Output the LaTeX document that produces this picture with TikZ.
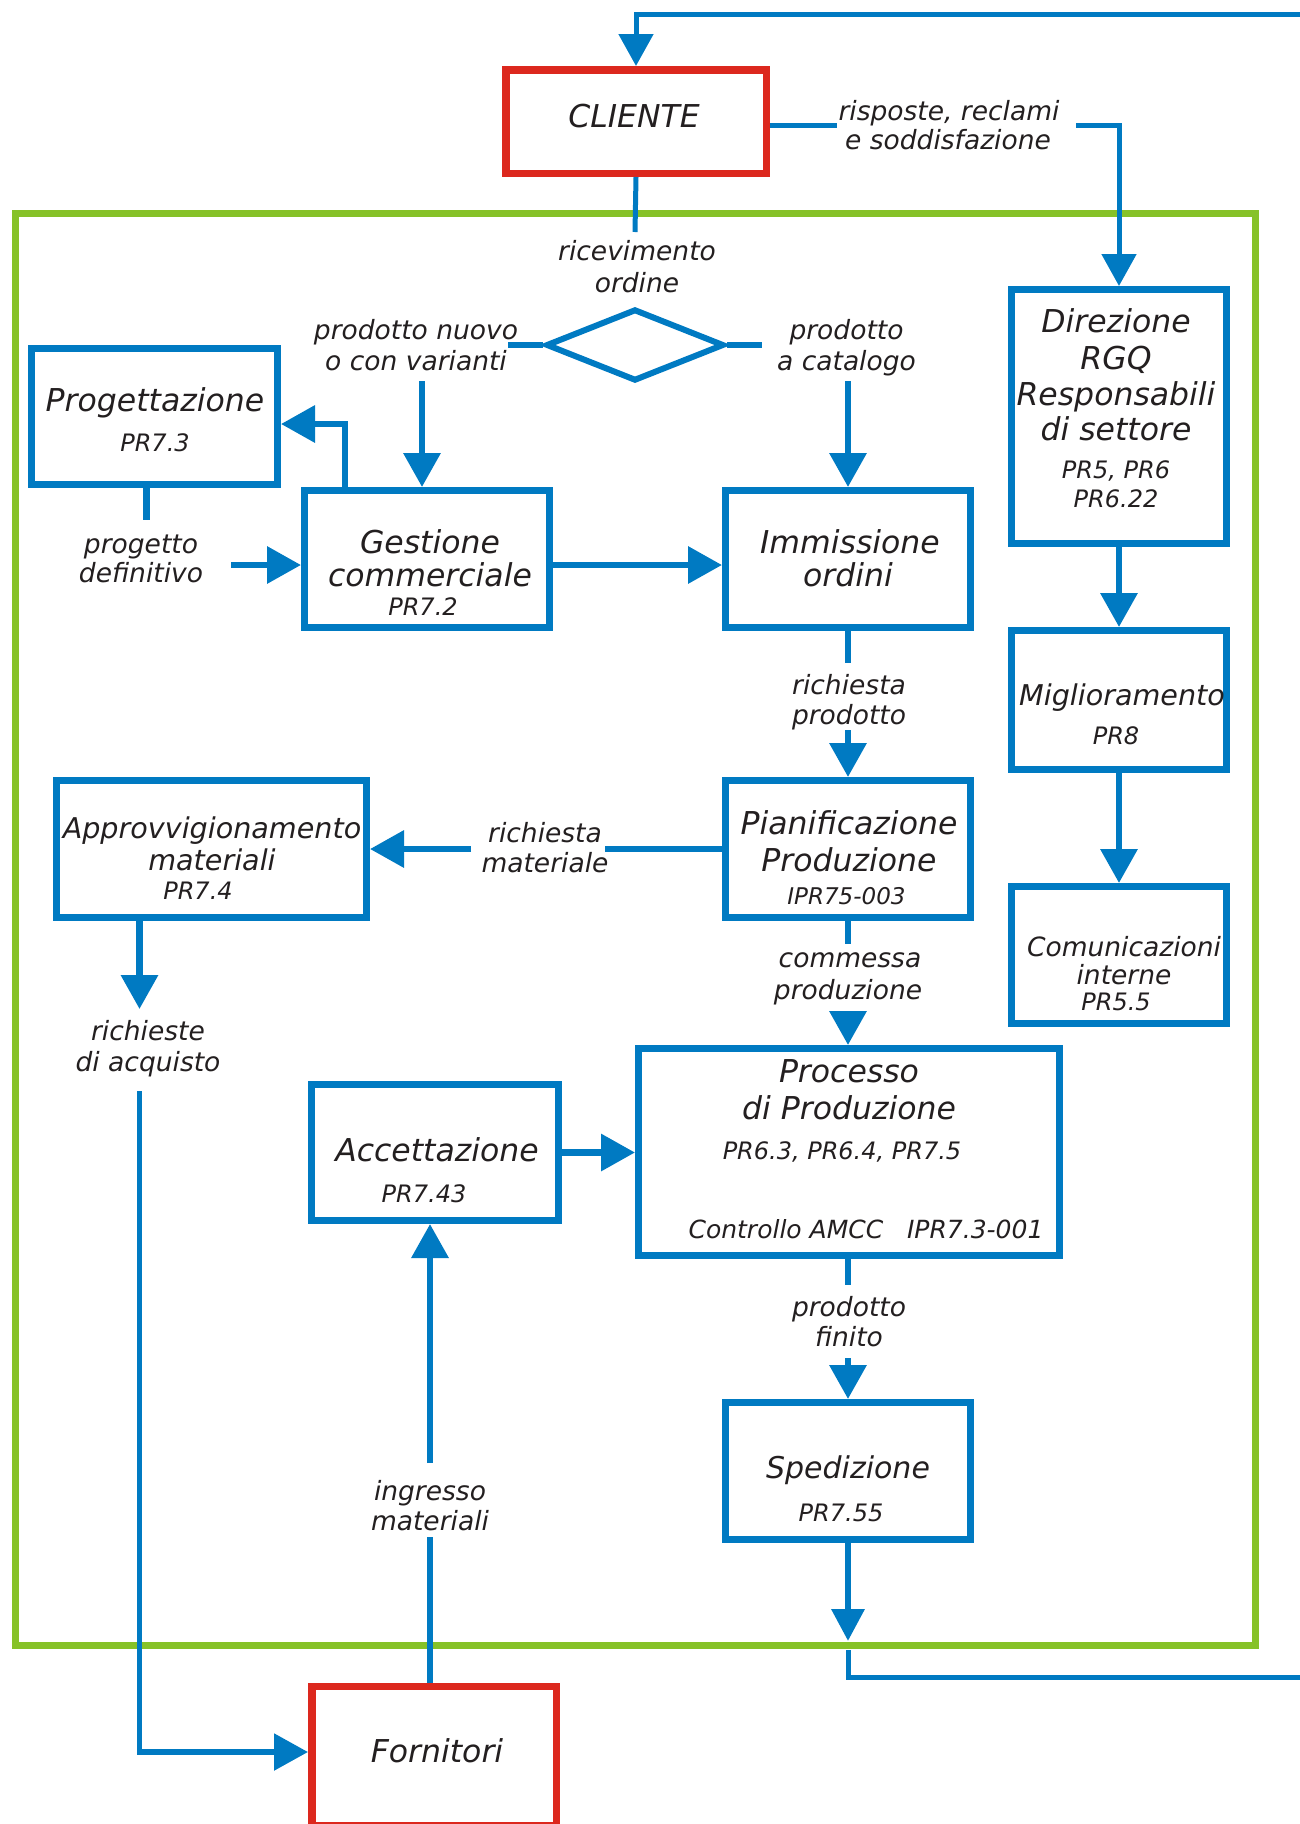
\documentclass[tikz,border=0pt]{standalone}
\usepackage{fontspec}
\setmainfont{DejaVu Sans}
\usetikzlibrary{arrows.meta,shapes.geometric}
\definecolor{qblue}{RGB}{0,122,194}
\definecolor{qred}{RGB}{220,40,30}
\definecolor{qgreen}{RGB}{134,194,40}
\definecolor{qtext}{RGB}{35,31,32}
\begin{document}
\begin{tikzpicture}[x=1pt,y=-1pt,
  box/.style={draw=qblue,line width=7pt,rectangle,inner sep=0pt,fill=white},
  rbox/.style={draw=qred,line width=7.5pt,rectangle,inner sep=0pt,fill=white},
  tx/.style={anchor=base,inner sep=0pt,text=qtext},
  fs/.style={tx,font=\fontsize{#1}{#1}\selectfont\itshape},
  ttl/.style={fs=31.5},
  cod/.style={fs=24},
  lab/.style={fs=26.5},
  con/.style={draw=qblue,line width=6.5pt},
  thinline/.style={draw=qblue,line width=5pt},
  arr/.style={-{Triangle[length=34pt,width=36pt]}},
]
\useasboundingbox (0,0) rectangle (1300,1824);

% frame
\node[draw=qgreen,line width=7pt,rectangle,inner sep=0pt,minimum width=1240pt,minimum height=1432pt] (frame) at (635.5,929.5) {};

% boxes
\node[rbox,minimum width=260.5pt,minimum height=103.5pt] (cli) at (636,121.5) {};
\node[rbox,minimum width=244.5pt,minimum height=139pt] (forn) at (434,1756) {};
\node[box,minimum width=246pt,minimum height=136pt] (prog) at (154.5,416.5) {};
\node[box,minimum width=245pt,minimum height=137pt] (gest) at (427,559) {};
\node[box,minimum width=245pt,minimum height=137pt] (imm) at (848,559) {};
\node[box,minimum width=215pt,minimum height=254pt] (dir) at (1119,416.5) {};
\node[box,minimum width=215pt,minimum height=139pt] (migl) at (1119,700) {};
\node[box,minimum width=215pt,minimum height=137pt] (com) at (1119,955) {};
\node[box,minimum width=245pt,minimum height=137pt] (pian) at (848,849) {};
\node[box,minimum width=310pt,minimum height=137pt] (appr) at (211.5,849) {};
\node[box,minimum width=421pt,minimum height=207pt] (proc) at (849,1152) {};
\node[box,minimum width=247pt,minimum height=136pt] (acc) at (435,1152.5) {};
\node[box,minimum width=245pt,minimum height=137pt] (sped) at (848,1471) {};
\node[diamond,draw=qblue,line width=6pt,inner sep=0pt,aspect=2.5,minimum width=178pt,minimum height=72pt] (dia) at (635,345) {};

% connectors
\coordinate (tr) at (1300,14);
\draw[thinline,-{Triangle[length=32pt,width=34pt]}] (tr) -| (cli.north);

\coordinate (rA) at (837,125);
\coordinate (rB) at (1076,125);
\draw[thinline] (rA -| cli.east) -- (rA);
\draw[thinline,-{Triangle[length=32pt,width=34pt]}] (rB) -| (dir.north);

\coordinate (ricT) at (635,232);
\draw[thinline] (cli.south) -- (ricT);

\coordinate (dL) at (508,345);
\coordinate (dR) at (762,345);
\draw[con] (dia.west) -- (dL);
\draw[con] (dia.east) -- (dR);

\coordinate (nvA) at (422,381);
\draw[con,arr] (nvA) -- (nvA |- gest.north);
\coordinate (caA) at (848,381);
\draw[con,arr] (caA) -- (caA |- imm.north);

\draw[con,arr] ([xshift=-82pt]gest.north) |- ([yshift=-7.5pt]prog.east);

\coordinate (pgB) at (146.5,520);
\draw[con] (pgB |- prog.south) -- (pgB);
\coordinate (pgA) at (231,565);
\draw[con,arr] (pgA) -- (pgA -| gest.west);
\draw[con,arr] ([yshift=-6pt]gest.east) -- ([yshift=-6pt]imm.west);

\coordinate (rpB) at (848,663);
\draw[con] (imm.south) -- (rpB);
\coordinate (rpA) at (848,730);
\draw[con,arr] (rpA) -- (pian.north);

\coordinate (rmB) at (605,849);
\draw[con] (pian.west) -- (rmB);
\coordinate (rmA) at (471,849);
\draw[con,arr] (rmA) -- (appr.east);

\coordinate (raB) at (139.5,1009);
\draw[con,arr] (raB |- appr.south) -- (raB);
\coordinate (raA) at (139.5,1091);
\draw[draw=qblue,line width=5.5pt,arr] (raA) |- ([yshift=4pt]forn.west);

\coordinate (cpB) at (848,944);
\draw[con] (pian.south) -- (cpB);
\coordinate (cpA) at (848,1012);
\draw[con,arr] (cpA) -- (cpA |- proc.north);

\draw[con,arr] (acc.east) -- (acc.east -| proc.west);

\coordinate (imB) at (430,1537);
\draw[con] (imB |- forn.north) -- (imB);
\coordinate (imA) at (430,1463);
\draw[con,arr] (imA) -- (imA |- acc.south);

\coordinate (pfB) at (848,1285);
\draw[con] (proc.south -| pfB) -- (pfB);
\coordinate (pfA) at (848,1358);
\draw[con,arr] (pfA) -- (sped.north);

\coordinate (spA) at (848,1641);
\draw[con,-{Triangle[length=32pt,width=32pt]}] (sped.south) -- (spA);
\coordinate (exA) at (848,1650);
\coordinate (exB) at (1300,1677);
\draw[thinline] (exA) |- (exB);

\draw[con,arr] (dir.south) -- (migl.north);
\draw[con,arr] (migl.south) -- (com.north);

% box texts
\node[ttl] (tCli) at (634,127) {CLIENTE};
\node[ttl] (tForn) at (437,1762) {Fornitori};
\node[ttl] (tProg) at (155,411) {Progettazione};
\node[cod] (tProgC) at (155,451) {PR7.3};
\node[ttl] (tGest1) at (430,553) {Gestione};
\node[ttl] (tGest2) at (430,586) {commerciale};
\node[cod] (tGestC) at (423,615) {PR7.2};
\node[ttl] (tImm1) at (850,553) {Immissione};
\node[ttl] (tImm2) at (848,586) {ordini};
\node[ttl] (tDir1) at (1116,332) {Direzione};
\node[ttl] (tDir2) at (1116,369) {RGQ};
\node[ttl] (tDir3) at (1116,405) {Responsabili};
\node[ttl] (tDir4) at (1116,440) {di settore};
\node[cod] (tDirC1) at (1116,478) {PR5, PR6};
\node[cod] (tDirC2) at (1116,507) {PR6.22};
\node[fs=28.6] (tMigl) at (1122,705) {Miglioramento};
\node[cod] (tMiglC) at (1116,744) {PR8};
\node[fs=26.5] (tCom1) at (1124,956) {Comunicazioni};
\node[fs=26.5] (tCom2) at (1124,984) {interne};
\node[cod] (tComC) at (1116,1010) {PR5.5};
\node[fs=28.6] (tAppr1) at (212,838) {Approvvigionamento};
\node[fs=28.6] (tAppr2) at (212,870) {materiali};
\node[cod] (tApprC) at (198,899) {PR7.4};
\node[ttl] (tPian1) at (849,834) {Pianificazione};
\node[ttl] (tPian2) at (849,871) {Produzione};
\node[fs=23] (tPianC) at (846.5,904) {IPR75-003};
\node[ttl] (tProc1) at (849,1082) {Processo};
\node[ttl] (tProc2) at (849,1119) {di Produzione};
\node[cod] (tProcC) at (842,1159) {PR6.3, PR6.4, PR7.5};
\node[fs=25] (tProcD) at (866,1238) {Controllo AMCC\ \ \ IPR7.3-001};
\node[ttl] (tAcc) at (437,1161) {Accettazione};
\node[cod] (tAccC) at (424,1202) {PR7.43};
\node[fs=30] (tSped) at (848,1478) {Spedizione};
\node[cod] (tSpedC) at (841,1521) {PR7.55};

% connector labels
\node[lab] (tRis1) at (949,120) {risposte, reclami};
\node[lab] (tRis2) at (948,149) {e soddisfazione};
\node[lab] (tRic1) at (637,260) {ricevimento};
\node[lab] (tRic2) at (637,292) {ordine};
\node[lab] (tNv1) at (416,339) {prodotto nuovo};
\node[lab] (tNv2) at (416,370) {o con varianti};
\node[lab] (tCa1) at (846.5,339) {prodotto};
\node[lab] (tCa2) at (846.5,370) {a catalogo};
\node[lab] (tPd1) at (141,553) {progetto};
\node[lab] (tPd2) at (141,582) {definitivo};
\node[lab] (tRp1) at (849,694) {richiesta};
\node[lab] (tRp2) at (849,724) {prodotto};
\node[lab] (tRm1) at (545,842) {richiesta};
\node[lab] (tRm2) at (545,872) {materiale};
\node[lab] (tRa1) at (148,1040) {richieste};
\node[lab] (tRa2) at (148,1071) {di acquisto};
\node[lab] (tCp1) at (850,967) {commessa};
\node[lab] (tCp2) at (848,999) {produzione};
\node[lab] (tIm1) at (430,1500) {ingresso};
\node[lab] (tIm2) at (430,1530) {materiali};
\node[lab] (tPf1) at (849,1316) {prodotto};
\node[lab] (tPf2) at (849,1346) {finito};
\end{tikzpicture}
\end{document}
